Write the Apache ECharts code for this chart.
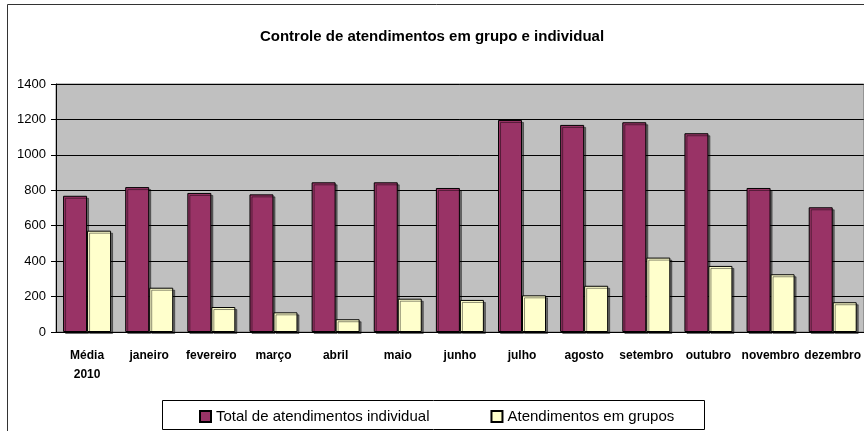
<!DOCTYPE html>
<html>
<head>
<meta charset="utf-8">
<script src="https://cdn.jsdelivr.net/npm/echarts@6/dist/echarts.min.js"></script>
<style>
  html, body { margin: 0; padding: 0; background: #fff; }
  #chart { width: 864px; height: 431px; }
</style>
</head>
<body>
<div id="chart"></div>
<script>
// dados
var categorias = ['Média\n2010', 'janeiro', 'fevereiro', 'março', 'abril', 'maio', 'junho',
    'julho', 'agosto', 'setembro', 'outubro', 'novembro', 'dezembro'];
var individual = [769, 818, 785, 777, 845, 845, 813, 1197, 1169, 1184, 1122, 813, 704];
var grupos = [572, 250, 141, 111, 72, 188, 181, 207, 261, 420, 373, 326, 168];
var ticksY = [0, 200, 400, 600, 800, 1000, 1200, 1400];

var fonte = '"Liberation Sans", Arial, sans-serif';

var chart = echarts.init(document.getElementById('chart'));

var estiloBarra = function (cor) {
    return {
        color: cor,
        borderColor: '#000',
        borderWidth: 1,
        shadowColor: 'rgba(0,0,0,0.45)',
        shadowOffsetX: 2,
        shadowOffsetY: 2,
        shadowBlur: 0
    };
};

chart.setOption({
    animation: false,
    textStyle: { fontFamily: fonte },
    title: {
        text: 'Controle de atendimentos em grupo e individual',
        left: 'center',
        top: 24,
        textStyle: { fontSize: 15, fontWeight: 'bold', color: '#000', fontFamily: fonte }
    },
    graphic: [{
        type: 'rect',
        shape: { x: 7.5, y: 4.5, width: 900, height: 500 },
        style: { fill: null, stroke: '#333', lineWidth: 1 },
        silent: true
    }, {
        type: 'rect',
        shape: { x: 162.5, y: 400.5, width: 542, height: 29 },
        style: { fill: '#fff', stroke: '#000', lineWidth: 1 },
        z: 0,
        silent: true
    }],
    legend: {
        left: 194,
        top: 404,
        itemWidth: 11,
        itemHeight: 11,
        itemGap: 61,
        icon: 'rect',
        itemStyle: { shadowBlur: 0, shadowOffsetX: 0, shadowOffsetY: 0, shadowColor: 'transparent' },
        textStyle: { fontSize: 15, color: '#000', fontFamily: fonte },
        data: ['Total de atendimentos individual', 'Atendimentos em grupos']
    },
    grid: {
        left: 56,
        right: -1,
        top: 84,
        bottom: 99,
        show: true,
        backgroundColor: '#C0C0C0',
        borderColor: '#808080',
        borderWidth: 1
    },
    xAxis: {
        type: 'category',
        data: categorias,
        axisLine: { lineStyle: { color: '#000' } },
        axisTick: { length: 4, lineStyle: { color: '#000' } },
        axisLabel: {
            interval: 0,
            margin: 14,
            fontSize: 12,
            fontWeight: 'bold',
            lineHeight: 19,
            color: '#000'
        }
    },
    yAxis: {
        type: 'value',
        min: ticksY[0],
        max: ticksY[ticksY.length - 1],
        interval: 200,
        axisLine: { show: true, lineStyle: { color: '#000' } },
        axisTick: { show: true, length: 5, lineStyle: { color: '#000' } },
        axisLabel: {
            margin: 10,
            fontSize: 13,
            color: '#000',
            formatter: function (v) { return String(v); }
        },
        splitLine: { lineStyle: { color: '#000', width: 1 } }
    },
    series: [{
        name: 'Total de atendimentos individual',
        type: 'bar',
        barWidth: 24,
        barGap: '0%',
        itemStyle: estiloBarra('#993366'),
        data: individual
    }, {
        name: 'Atendimentos em grupos',
        type: 'bar',
        barWidth: 24,
        barGap: '0%',
        itemStyle: estiloBarra('#FFFFCC'),
        data: grupos
    }]
});
</script>
</body>
</html>
